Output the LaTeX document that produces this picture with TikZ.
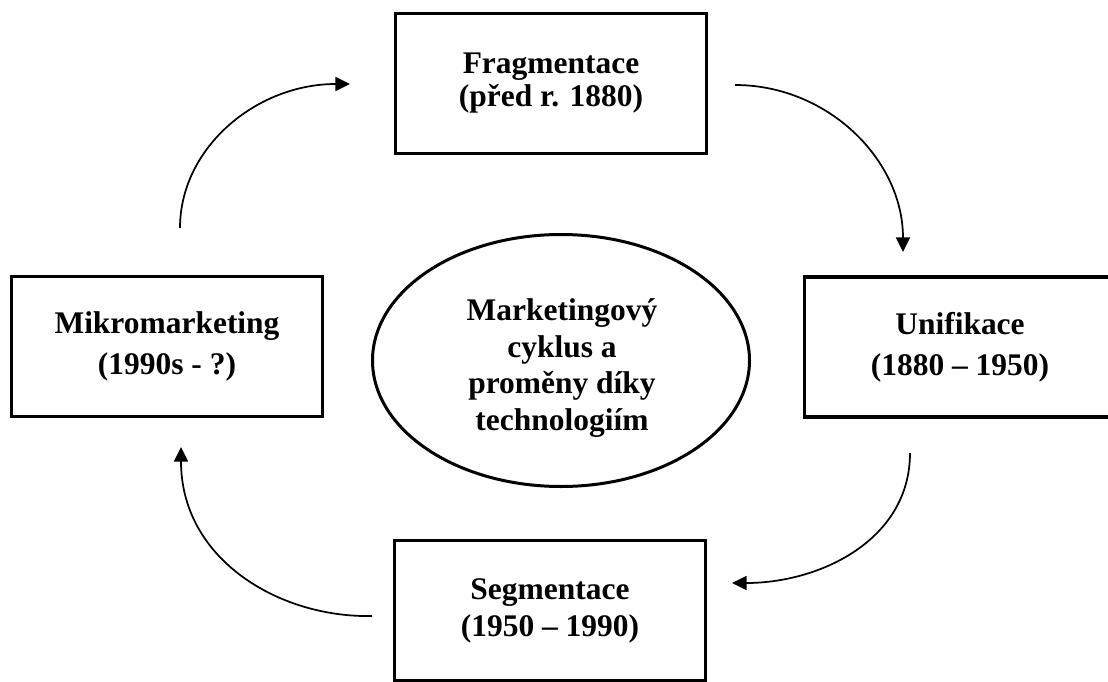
\documentclass[tikz,border=0pt]{standalone}
\usepackage{fontspec}
\setmainfont{Liberation Serif}
\usetikzlibrary{arrows.meta,shapes.geometric}
\begin{document}
\begin{tikzpicture}[x=0.75pt,y=-0.75pt,
  stagebox/.style={draw, line width=2.4pt, minimum width=233.25pt,
    minimum height=105pt, inner sep=0pt, align=center},
  txt/.style={font=\bfseries\fontsize{23.6pt}{#1}\selectfont},
  flow/.style={line width=1.3pt, -{Triangle[length=11pt,width=10.5pt]}}]
\useasboundingbox (0,0) rectangle (1108,682);

% four stages of the cycle
\node[stagebox, txt=24.75pt] (frag) at (551,83.5) {Fragmentace\\(před r. 1880)};
\node[stagebox, txt=30.75pt] (unif) at (960,347) {Unifikace\\(1880 – 1950)};
\node[stagebox, txt=27.75pt] (segm) at (550,610.5) {Segmentace\\(1950 – 1990)};
\node[stagebox, txt=30.75pt] (mikro) at (167,346.5) {Mikromarketing\\(1990s - ?)};

% central ellipse and its caption
\node[ellipse, draw, line width=2.25pt, minimum width=282.75pt,
  minimum height=189pt, inner sep=0pt] (cyc) at (561,360.5) {};
\node[txt=27.5pt, align=center] (cyctext) at (562,368)
  {Marketingový\\cyklus a\\proměny díky\\technologiím};

% curved arrows between the stages
\coordinate (a1s) at (180,228);  \coordinate (a1e) at (350,84);
\coordinate (a2s) at (735,85);   \coordinate (a2e) at (903,252);
\coordinate (a3s) at (910,453);  \coordinate (a3e) at (732,583);
\coordinate (a4s) at (372,616);  \coordinate (a4e) at (181,447);

\draw[flow] (a1s) .. controls (180,148) and (256,84) .. (a1e);
\draw[flow] (a2s) .. controls (828,85) and (903,160) .. (a2e);
\draw[flow] (a3s) .. controls (910,540) and (820,583) .. (a3e);
\draw[flow] (a4s) .. controls (280,618) and (181,560) .. (a4e);
\end{tikzpicture}
\end{document}
